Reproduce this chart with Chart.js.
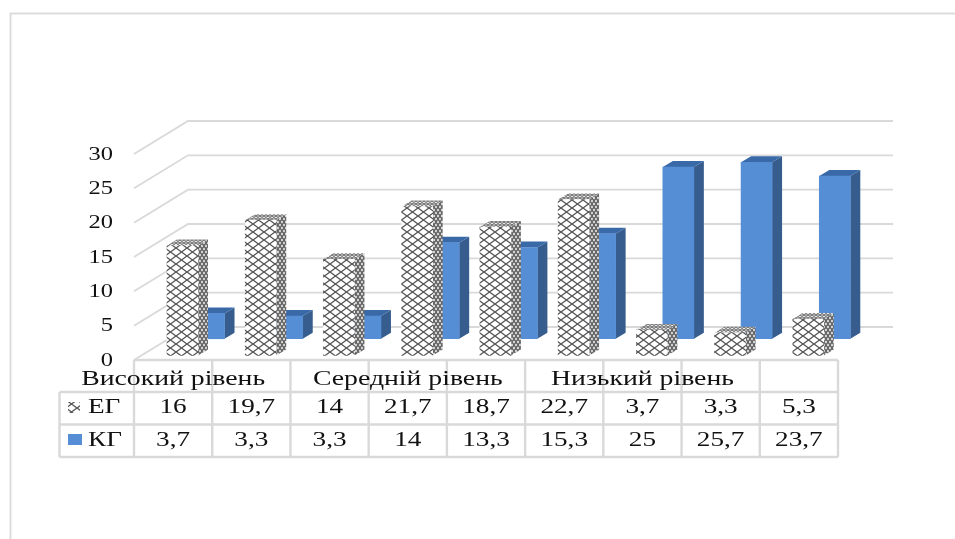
<!DOCTYPE html>
<html>
<head>
<meta charset="utf-8">
<title>ЕГ / КГ</title>
<script src="https://cdn.jsdelivr.net/npm/chart.js@4"></script>
<style>
	html, body { margin: 0; padding: 0; background: #fff; }
	canvas { display: block; filter: blur(0.45px); }
</style>
</head>
<body>
<canvas id="chart" width="955" height="539"></canvas>
<script>
// chart data
const categories = [ 'Високий рівень', '', '', 'Середній рівень', '', '', 'Низький рівень', '', '' ];
const seriesEG = [ 16, 19.7, 14, 21.7, 18.7, 22.7, 3.7, 3.3, 5.3 ];
const seriesKG = [ 3.7, 3.3, 3.3, 14, 13.3, 15.3, 25, 25.7, 23.7 ];
const labelsEG = [ '16', '19,7', '14', '21,7', '18,7', '22,7', '3,7', '3,3', '5,3' ];
const labelsKG = [ '3,7', '3,3', '3,3', '14', '13,3', '15,3', '25', '25,7', '23,7' ];
const nameEG = 'ЕГ';
const nameKG = 'КГ';

const gridColor = '#d9d9d9';
const blueFront = '#558ed5';
const blueSide = '#365d8d';
const blueTop = '#3a69a8';

// 3d look of the old office chart
const wallDx = 54;
const wallDy = -33;
const barDx = 10;
const barDy = -6;

// lattice fill for the ЕГ bars, w and h set how squashed the diamonds are
function latticePattern( w, h, lineWidth, color ) {
	const c = document.createElement( 'canvas' );
	c.width = w;
	c.height = h;
	const g = c.getContext( '2d' );
	g.fillStyle = '#fff';
	g.fillRect( 0, 0, w, h );
	g.strokeStyle = color;
	g.lineWidth = lineWidth;
	g.beginPath();
	g.moveTo( 0, 0 );
	g.lineTo( w, h );
	g.moveTo( w, 0 );
	g.lineTo( 0, h );
	g.stroke();
	return g.createPattern( c, 'repeat' );
}

const patternFront = latticePattern( 11, 8, 1.3, '#555' );
const patternSide = latticePattern( 4, 6, 1.6, '#666' );
const patternTop = latticePattern( 4, 3, 1.2, '#777' );

// image is stretched sideways, so the text is too
function stretchedText( ctx, text, x, y, align, size ) {
	const sx = 1.36;
	ctx.save();
	ctx.font = ( size || 20 ) + 'px "Liberation Serif"';
	ctx.fillStyle = '#111';
	ctx.textAlign = align;
	ctx.textBaseline = 'middle';
	ctx.translate( x, y );
	ctx.scale( sx, 1 );
	ctx.fillText( text, 0, 0 );
	ctx.restore();
}

function hLine( ctx, x1, x2, y ) {
	ctx.beginPath();
	ctx.moveTo( x1, y );
	ctx.lineTo( x2, y );
	ctx.stroke();
}

function vLine( ctx, x, y1, y2 ) {
	ctx.beginPath();
	ctx.moveTo( x, y1 );
	ctx.lineTo( x, y2 );
	ctx.stroke();
}

const wallPlugin = {
	id: 'wall',
	beforeDatasetsDraw( chart ) {
		const { ctx, scales: { y }, chartArea } = chart;
		ctx.save();
		ctx.strokeStyle = gridColor;
		ctx.lineWidth = 1.8;

		// outer frame
		ctx.strokeRect( 10.5, 13.5, 990, 600 );

		y.ticks.forEach( tick => {
			const py = y.getPixelForValue( tick.value );
			ctx.beginPath();
			ctx.moveTo( chartArea.left, py );
			ctx.lineTo( chartArea.left + wallDx, py + wallDy );
			ctx.lineTo( chartArea.right + wallDx + 1, py + wallDy );
			ctx.stroke();
			stretchedText( ctx, tick.value, chartArea.left - 21, py + 1, 'right', 18 );
		} );
		ctx.restore();
	},
};

// side and top faces, drawn right before the front face of the same series
const depthPlugin = {
	id: 'depth',
	beforeDatasetDraw( chart, args ) {
		const { ctx } = chart;
		const isEG = args.index === 0;
		ctx.save();
		args.meta.data.forEach( bar => {
			const right = bar.x + bar.width / 2;
			const left = bar.x - bar.width / 2;

			ctx.fillStyle = isEG ? patternSide : blueSide;
			ctx.beginPath();
			ctx.moveTo( right, bar.y );
			ctx.lineTo( right + barDx, bar.y + barDy );
			ctx.lineTo( right + barDx, bar.base + barDy );
			ctx.lineTo( right, bar.base );
			ctx.closePath();
			ctx.fill();

			ctx.fillStyle = isEG ? patternTop : blueTop;
			ctx.beginPath();
			ctx.moveTo( left, bar.y );
			ctx.lineTo( left + barDx, bar.y + barDy );
			ctx.lineTo( right + barDx, bar.y + barDy );
			ctx.lineTo( right, bar.y );
			ctx.closePath();
			ctx.fill();
		} );
		ctx.restore();
	},
};

// data table under the chart, columns come from the category axis
const tablePlugin = {
	id: 'dataTable',
	afterDraw( chart ) {
		const { ctx, scales: { x }, chartArea } = chart;
		const left = chartArea.left;
		const right = chartArea.right;
		const top = chartArea.bottom;
		const rowY = [ top, 392, 424.5, 457 ];
		const keyLeft = 59.5;
		const step = ( right - left ) / categories.length;

		ctx.save();
		ctx.strokeStyle = gridColor;
		ctx.lineWidth = 2.4;
		hLine( ctx, left, right, rowY[ 0 ] );
		hLine( ctx, keyLeft, right, rowY[ 1 ] );
		hLine( ctx, keyLeft, right, rowY[ 2 ] );
		hLine( ctx, keyLeft, right, rowY[ 3 ] );
		vLine( ctx, keyLeft, rowY[ 1 ], rowY[ 3 ] );
		for ( let i = 0; i <= categories.length; i++ ) {
			vLine( ctx, left + i * step, rowY[ 0 ], rowY[ 3 ] );
		}

		// legend keys
		ctx.fillStyle = patternFront;
		ctx.fillRect( 68, 402, 12, 11 );
		ctx.fillStyle = blueFront;
		ctx.fillRect( 68, 434, 14, 11 );
		stretchedText( ctx, nameEG, 88, 408, 'left', 20 );
		stretchedText( ctx, nameKG, 88, 441, 'left', 20 );

		categories.forEach( ( cat, i ) => {
			const cx = x.getPixelForValue( i );
			if ( cat ) {
				stretchedText( ctx, cat, cx, 380, 'center', 20.4 );
			}
			stretchedText( ctx, labelsEG[ i ], cx, 408, 'center', 20 );
			stretchedText( ctx, labelsKG[ i ], cx, 441, 'center', 20 );
		} );
		ctx.restore();
	},
};

new Chart( document.getElementById( 'chart' ), {
	type: 'bar',
	data: {
		labels: categories,
		datasets: [
			{
				label: nameEG,
				data: seriesEG.map( ( v, i ) => ( { x: i, y: v } ) ),
				backgroundColor: patternFront,
				xAxisID: 'xEG',
				yAxisID: 'yEG',
				barThickness: 31,
				grouped: false,
				clip: false,
			},
			{
				label: nameKG,
				data: seriesKG.map( ( v, i ) => ( { x: i, y: v } ) ),
				backgroundColor: blueFront,
				xAxisID: 'xKG',
				yAxisID: 'yKG',
				barThickness: 31,
				grouped: false,
				clip: false,
			},
		],
	},
	options: {
		responsive: false,
		animation: false,
		layout: { padding: { left: 134, right: 117, top: 154, bottom: 179 } },
		plugins: {
			legend: { display: false },
			title: { display: false },
			tooltip: { enabled: false },
		},
		scales: {
			// table columns and value labels
			x: { type: 'category', labels: categories, offset: true, display: false },
			y: { type: 'linear', min: 0, max: 30, ticks: { stepSize: 5 }, display: false },
			// each series sits at its own depth, so it gets shifted hidden axes
			xEG: { type: 'linear', offset: false, min: -0.62, max: 8.38, display: false },
			yEG: { type: 'linear', min: -0.66, max: 29.34, display: false },
			xKG: { type: 'linear', offset: false, min: -0.959, max: 8.041, display: false },
			yKG: { type: 'linear', min: -3.09, max: 26.91, display: false },
		},
	},
	plugins: [ wallPlugin, depthPlugin, tablePlugin ],
} );
</script>
</body>
</html>
